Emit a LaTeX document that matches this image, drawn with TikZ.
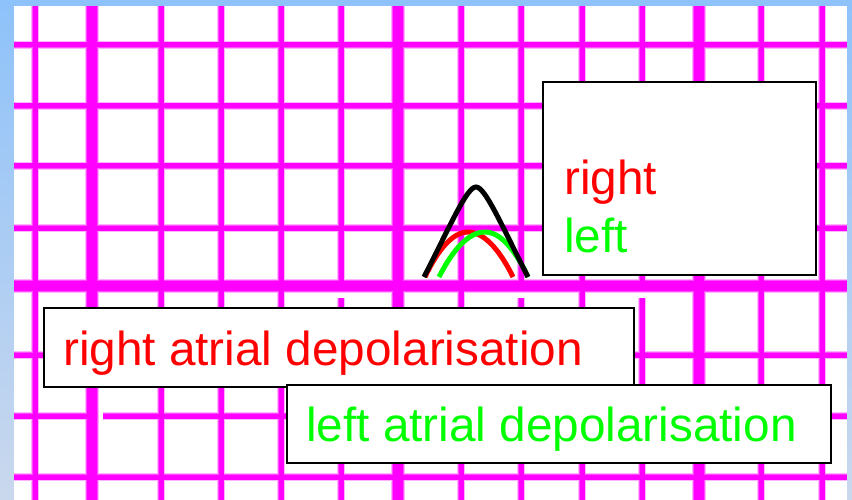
\documentclass[tikz,border=0pt]{standalone}
\usepackage{fontspec}
\setmainfont{Liberation Sans}
\definecolor{bgtop}{RGB}{142,194,250}
\definecolor{bgbot}{RGB}{202,216,237}
\definecolor{gridpink}{RGB}{255,0,255}
\definecolor{txtred}{RGB}{255,0,0}
\definecolor{txtgreen}{RGB}{0,255,0}
\newcommand\mygridlayer[3]{%
  \foreach \xx in {35,161,221,281,461,582,761,822}
    \draw[line width=#1, #3] (\xx,6) -- (\xx,500);
  \foreach \xx in {341,521,642}{
    \draw[line width=#1, #3] (\xx,6) -- (\xx,286);
    \draw[line width=#1, #3] (\xx,298) -- (\xx,500);}
  \foreach \yy in {45,106,166,228,355,477}
    \draw[line width=#1, #3] (14,\yy) -- (847,\yy);
  \draw[line width=#1, #3] (14,416) -- (92,416);
  \draw[line width=#1, #3] (103,416) -- (847,416);
  \foreach \xx in {92,398,699}
    \draw[line width=#2, #3] (\xx,6) -- (\xx,500);
  \draw[line width=#2, #3] (14,286) -- (847,286);
}
\begin{document}
\begin{tikzpicture}[x=1pt,y=-1pt,
  boxframe/.style={draw=black, line width=1.5pt, fill=white},
  lbl/.style={inner sep=0pt, anchor=base west, font=\fontsize{47.7}{52}\selectfont},
  wave/.style={line width=5pt}]
\useasboundingbox (0,0) rectangle (852,500);
% background frame
\shade[top color=bgtop, bottom color=bgbot] (0,0) rectangle (852,500);
\fill[white] (14,6) rectangle (847,500);
% ECG grid
\begin{scope}
  \clip (14,6) rectangle (847,500);
  \mygridlayer{8.5pt}{13.5pt}{gridpink!30}
  \mygridlayer{6.8pt}{11.8pt}{gridpink!70}
  \mygridlayer{5pt}{10pt}{gridpink}
\end{scope}
% top-right legend box
\draw[boxframe] (543,82) rectangle (816,275);
\node[lbl, text=txtred] (rtop) at (564,195) {right};
\node[lbl, text=txtgreen] (ltop) at (564,252) {left};
% waves
\draw[wave, txtred] (425,277) parabola bend (468,232) (513,277);
\draw[wave, txtgreen] (439,277) parabola bend (485,232) (528,277);
\draw[wave, black] (424,277) .. controls (452,222) and (467,187) .. (476,187)
  .. controls (485,187) and (500,222) .. (528,277);
% label boxes
\draw[boxframe] (44,308) rectangle (634,387);
\node[lbl, text=txtred] (rad) at (63,365) {right atrial depolarisation};
\draw[boxframe] (287,385) rectangle (831,463);
\node[lbl, text=txtgreen] (lad) at (306,441) {left atrial depolarisation};
\end{tikzpicture}
\end{document}
